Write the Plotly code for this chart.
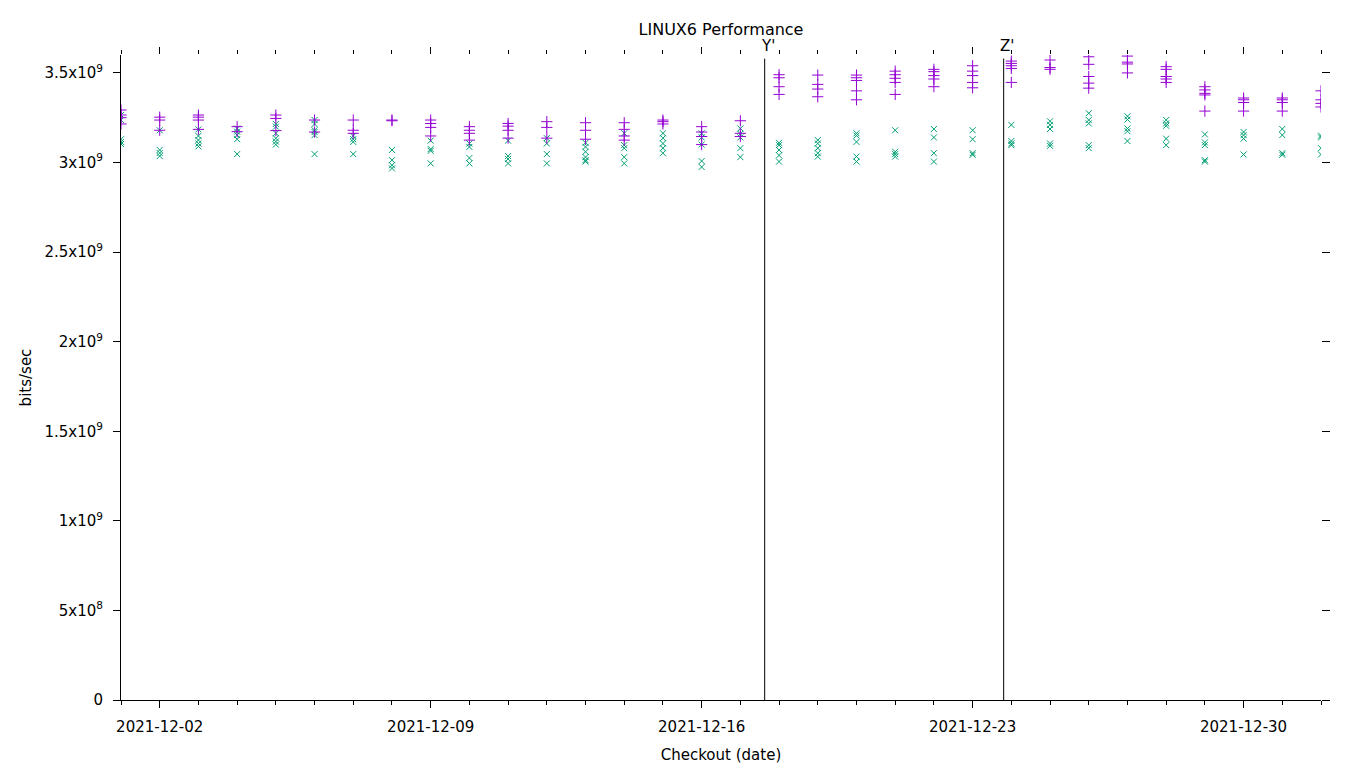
import plotly.graph_objects as go
import pandas as pd

# ---- data ----
checkout_dates = [d.strftime("%Y-%m-%d") for d in pd.date_range("2021-12-01", "2022-01-01")]

# purple '+' series (values in 1e9 bits/sec), one list per checkout date
series_a = [
    [3.293, 3.265, 3.25, 3.215],
    [3.253, 3.237, 3.18],
    [3.265, 3.253, 3.237, 3.185],
    [3.20, 3.172],
    [3.265, 3.246, 3.178],
    [3.237, 3.17],
    [3.237, 3.18, 3.163],
    [3.237, 3.233],
    [3.237, 3.218, 3.196, 3.148],
    [3.20, 3.18, 3.163, 3.125],
    [3.218, 3.203, 3.18, 3.136],
    [3.228, 3.196, 3.136],
    [3.222, 3.18, 3.13],
    [3.222, 3.185, 3.148, 3.125],
    [3.237, 3.228, 3.215],
    [3.20, 3.17, 3.145, 3.10],
    [3.233, 3.163, 3.145],
    [3.49, 3.473, 3.423, 3.38],
    [3.488, 3.436, 3.41, 3.367],
    [3.488, 3.473, 3.458, 3.40, 3.35],
    [3.51, 3.49, 3.47, 3.447, 3.38],
    [3.52, 3.507, 3.485, 3.466, 3.423],
    [3.54, 3.51, 3.485, 3.447, 3.417],
    [3.566, 3.553, 3.54, 3.525, 3.447],
    [3.572, 3.53, 3.52],
    [3.59, 3.548, 3.48, 3.443, 3.415],
    [3.594, 3.56, 3.55, 3.50],
    [3.535, 3.52, 3.48, 3.466, 3.447],
    [3.423, 3.405, 3.386, 3.377, 3.287],
    [3.36, 3.35, 3.335, 3.287],
    [3.36, 3.35, 3.335, 3.287],
    [3.40, 3.35, 3.33, 3.31],
]

# green 'x' series (values in 1e9 bits/sec)
series_b = [
    [3.265, 3.237, 3.13, 3.115, 3.103],
    [3.18, 3.07, 3.053, 3.036],
    [3.185, 3.148, 3.125, 3.106, 3.09],
    [3.19, 3.172, 3.153, 3.13, 3.047],
    [3.215, 3.20, 3.163, 3.135, 3.117, 3.10],
    [3.237, 3.215, 3.18, 3.17, 3.153, 3.047],
    [3.148, 3.13, 3.115, 3.047],
    [3.07, 3.013, 2.985, 2.967],
    [3.122, 3.075, 3.065, 2.995],
    [3.106, 3.087, 3.025, 2.995],
    [3.122, 3.036, 3.02, 2.995],
    [3.136, 3.106, 3.047, 2.995],
    [3.11, 3.087, 3.06, 3.03, 3.013, 3.005],
    [3.163, 3.097, 3.08, 3.03, 2.995],
    [3.163, 3.136, 3.106, 3.08, 3.052],
    [3.163, 3.14, 3.10, 3.008, 2.975],
    [3.19, 3.16, 3.14, 3.08, 3.03],
    [3.11, 3.097, 3.07, 3.04, 3.005],
    [3.125, 3.106, 3.08, 3.052, 3.033],
    [3.163, 3.15, 3.115, 3.033, 3.005],
    [3.18, 3.06, 3.047, 3.033],
    [3.187, 3.14, 3.052, 3.005],
    [3.18, 3.13, 3.052, 3.043],
    [3.21, 3.12, 3.106, 3.097],
    [3.23, 3.21, 3.187, 3.106, 3.093],
    [3.275, 3.237, 3.218, 3.097, 3.08],
    [3.258, 3.24, 3.19, 3.175, 3.12],
    [3.237, 3.218, 3.205, 3.133, 3.097],
    [3.157, 3.112, 3.097, 3.013, 3.005],
    [3.17, 3.153, 3.133, 3.045],
    [3.187, 3.153, 3.052, 3.043],
    [3.15, 3.14, 3.08, 3.045],
]

marker_dates = ["2021-12-17 15:05", "2021-12-23 19:15"]
marker_labels = ["Y'", "Z'"]
marker_top = 3.58e9

y_tickvals = [0, 5e8, 1e9, 1.5e9, 2e9, 2.5e9, 3e9, 3.5e9]
y_ticktext = ["0", "5x10<sup>8</sup>", "1x10<sup>9</sup>", "1.5x10<sup>9</sup>",
              "2x10<sup>9</sup>", "2.5x10<sup>9</sup>", "3x10<sup>9</sup>", "3.5x10<sup>9</sup>"]

x_range = ["2021-12-01", "2022-01-01"]
y_range = [0, 3.6e9]


def flatten(series):
    xs, ys = [], []
    for d, vals in zip(checkout_dates, series):
        for v in vals:
            xs.append(d)
            ys.append(v * 1e9)
    return xs, ys


FONT = "DejaVu Sans"
fig = go.Figure()

xb, yb = flatten(series_b)
fig.add_trace(go.Scatter(x=xb, y=yb, mode="markers", showlegend=False,
                         marker=dict(symbol="x-thin", size=6, color="#009e73",
                                     line=dict(color="#009e73", width=1))))
xa, ya = flatten(series_a)
fig.add_trace(go.Scatter(x=xa, y=ya, mode="markers", showlegend=False,
                         marker=dict(symbol="cross-thin", size=8, color="#9400d3",
                                     line=dict(color="#9400d3", width=1))))

# invisible trace to anchor mirrored tick axes
fig.add_trace(go.Scatter(x=[x_range[0]], y=[0], xaxis="x2", yaxis="y2", mode="markers",
                         marker=dict(opacity=0), showlegend=False, hoverinfo="skip"))

for d, lab in zip(marker_dates, marker_labels):
    fig.add_shape(type="line", x0=d, x1=d, y0=0, y1=marker_top, xref="x", yref="y",
                  line=dict(color="black", width=1))
    fig.add_annotation(x=d, y=marker_top, text=lab, showarrow=False, yanchor="bottom",
                       xanchor="center", xshift=3, yshift=2,
                       font=dict(family=FONT, size=15, color="black"))

tickfont = dict(family=FONT, size=15, color="black")
xcommon = dict(type="date", range=x_range, tick0="2021-12-02", dtick=7 * 86400000,
               ticks="outside", ticklen=7, tickcolor="black", showgrid=False, zeroline=False,
               automargin=False,
               minor=dict(dtick=86400000, tick0="2021-12-01", ticks="outside", ticklen=4,
                          tickcolor="black", showgrid=False))

fig.update_layout(
    width=1360, height=768,
    margin=dict(l=121, r=39, t=55, b=68),
    paper_bgcolor="white", plot_bgcolor="white",
    title=dict(text="LINUX6 Performance", x=0.5, xref="paper", y=1, yref="container",
               yanchor="top", pad=dict(t=24),
               font=dict(family=FONT, size=16, color="black")),
    xaxis=dict(**xcommon, tickformat="%Y-%m-%d", tickfont=tickfont, ticklabelstandoff=6,
               showline=True, linecolor="black", linewidth=1,
               title=dict(text="Checkout (date)", font=tickfont, standoff=14)),
    xaxis2=dict(**xcommon, overlaying="x", side="top", anchor="y", showticklabels=False,
                showline=False),
    yaxis=dict(range=y_range, tickvals=y_tickvals, ticktext=y_ticktext, ticks="outside",
               ticklen=7, tickcolor="black", showgrid=False, zeroline=False, automargin=False,
               showline=True, linecolor="black", linewidth=1, tickfont=tickfont,
               ticklabelstandoff=7,
               title=dict(text="bits/sec", font=tickfont, standoff=9)),
    yaxis2=dict(range=y_range, tickvals=y_tickvals, overlaying="y", side="right", anchor="x",
                ticks="outside", ticklen=8, tickcolor="black", showticklabels=False,
                automargin=False, showgrid=False, zeroline=False, showline=False),
)

fig.write_html("out.html", config={"displayModeBar": False},
               post_script="document.body.style.margin='0';")
